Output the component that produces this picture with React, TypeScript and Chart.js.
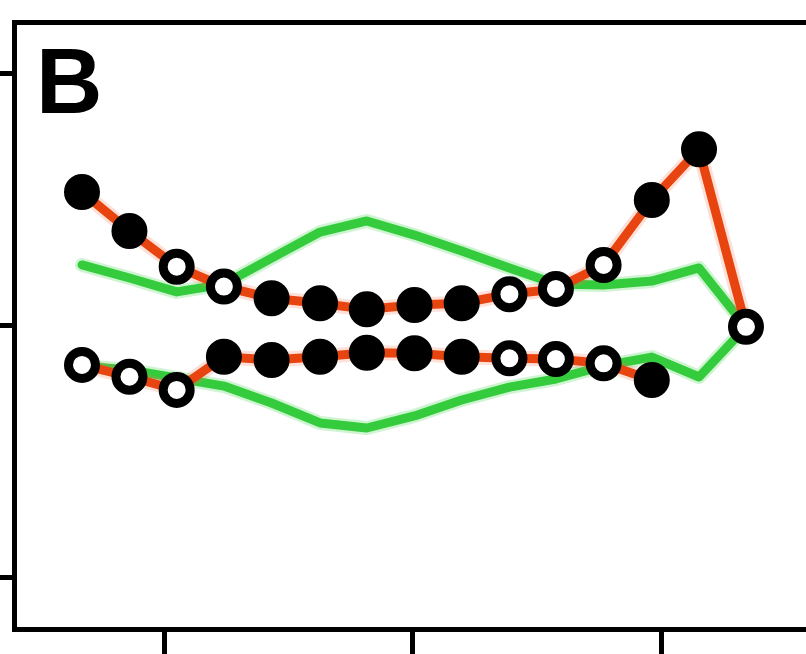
import React, { useEffect, useRef } from "react";
import { Chart, registerables } from "chart.js";

Chart.register(...registerables);

// x positions of the samples (axis ticks at 10, 20, 30)
const xPositions = [6.68, 8.59, 10.49, 12.39, 14.31, 16.26, 18.14, 20.06, 21.96, 23.88, 25.75, 27.67, 29.61, 31.51, 33.4];

// upper orange series (15 points)
const upperRed = [0.529, 0.374, 0.233, 0.154, 0.108, 0.088, 0.064, 0.081, 0.088, 0.124, 0.145, 0.24, 0.497, 0.698, -0.005];
const upperFilled = [true, true, false, false, true, true, true, true, true, false, false, false, true, true, false];

// lower orange series (13 points)
const lowerRed = [-0.156, -0.203, -0.255, -0.124, -0.137, -0.124, -0.108, -0.11, -0.124, -0.13, -0.133, -0.15, -0.216];
const lowerFilled = [false, false, false, true, true, true, true, true, true, false, false, false, true];

// green envelope lines
const upperGreen = [0.24, 0.188, 0.133, 0.164, 0.267, 0.37, 0.414, 0.358, 0.295, 0.228, 0.164, 0.16, 0.176, 0.228, -0.006];
const lowerGreen = [-0.16, -0.176, -0.208, -0.24, -0.307, -0.386, -0.406, -0.358, -0.295, -0.244, -0.212, -0.16, -0.125, -0.204, -0.006];

const xTicks = [10, 20, 30];
const yTicks = [-1, 0, 1];
const panelLabel = "B";

const ORANGE = "#e8440f";
const ORANGE_HALO = "rgba(245, 120, 80, 0.22)";
const GREEN = "#34cc3c";
const GREEN_HALO = "rgba(60, 210, 70, 0.25)";

const toPoints = (ys: number[]) => ys.map((y, i) => ({ x: xPositions[i], y }));

const labelPlugin = {
  id: "panelLabel",
  afterDraw(chart: any) {
    const ctx = chart.ctx;
    ctx.save();
    ctx.fillStyle = "#000";
    ctx.font = "bold 92px 'Liberation Sans', Arial, sans-serif";
    ctx.textBaseline = "alphabetic";
    ctx.textAlign = "left";
    ctx.fillText(panelLabel, 36, 113);
    ctx.restore();
  },
};

export default function App() {
  const ref = useRef<HTMLCanvasElement | null>(null);

  useEffect(() => {
    if (!ref.current) return;
    const xMin = 3.944;
    const xMax = 35.815;
    const markerBg = (flags: boolean[]) => flags.map((f) => (f ? "#000" : "#fff"));

    const chart = new Chart(ref.current, {
      type: "line",
      data: {
        datasets: [
          {
            label: "upper",
            data: toPoints(upperRed),
            borderColor: ORANGE,
            borderWidth: 9,
            pointRadius: 13.5,
            pointBorderWidth: 9,
            pointBorderColor: "#000",
            pointBackgroundColor: markerBg(upperFilled),
            order: 0,
          },
          {
            label: "lower",
            data: toPoints(lowerRed),
            borderColor: ORANGE,
            borderWidth: 9,
            pointRadius: 13.5,
            pointBorderWidth: 9,
            pointBorderColor: "#000",
            pointBackgroundColor: markerBg(lowerFilled),
            order: 0,
          },
          {
            label: "upperHalo",
            data: toPoints(upperRed),
            borderColor: ORANGE_HALO,
            borderWidth: 15,
            pointRadius: 0,
            order: 1,
          },
          {
            label: "lowerHalo",
            data: toPoints(lowerRed),
            borderColor: ORANGE_HALO,
            borderWidth: 15,
            pointRadius: 0,
            order: 1,
          },
          {
            label: "greenUpper",
            data: toPoints(upperGreen),
            borderColor: GREEN,
            borderWidth: 9,
            borderCapStyle: "round",
            borderJoinStyle: "round",
            pointRadius: 0,
            order: 2,
          },
          {
            label: "greenLower",
            data: toPoints(lowerGreen),
            borderColor: GREEN,
            borderWidth: 9,
            borderCapStyle: "round",
            borderJoinStyle: "round",
            pointRadius: 0,
            order: 2,
          },
          {
            label: "greenUpperHalo",
            data: toPoints(upperGreen),
            borderColor: GREEN_HALO,
            borderWidth: 14,
            borderCapStyle: "round",
            borderJoinStyle: "round",
            pointRadius: 0,
            order: 3,
          },
          {
            label: "greenLowerHalo",
            data: toPoints(lowerGreen),
            borderColor: GREEN_HALO,
            borderWidth: 14,
            borderCapStyle: "round",
            borderJoinStyle: "round",
            pointRadius: 0,
            order: 3,
          },
        ],
      },
      options: {
        animation: false,
        responsive: false,
        events: [],
        layout: { autoPadding: false, padding: { top: 22, left: 0, right: 0, bottom: 0 } },
        plugins: {
          legend: { display: false },
          tooltip: { enabled: false },
          title: { display: false },
        },
        elements: { line: { tension: 0 } },
        scales: {
          x: {
            type: "linear",
            position: "bottom",
            min: xMin,
            max: xMax,
            afterBuildTicks: (s: any) => {
              s.ticks = xTicks.map((v) => ({ value: v }));
            },
            ticks: { display: false },
            grid: {
              display: true,
              drawOnChartArea: false,
              drawTicks: true,
              tickLength: 25,
              tickWidth: 5,
              lineWidth: 5,
              tickColor: "#000",
              color: "#000",
            },
            border: { display: true, width: 5, color: "#000" },
          },
          x2: {
            type: "linear",
            position: "top",
            min: xMin,
            max: xMax,
            ticks: { display: false },
            grid: { display: false, drawTicks: false },
            border: { display: true, width: 5, color: "#000" },
          },
          y: {
            type: "linear",
            position: "left",
            min: -1.202,
            max: 1.202,
            afterBuildTicks: (s: any) => {
              s.ticks = yTicks.map((v) => ({ value: v }));
            },
            ticks: { display: false },
            grid: {
              display: true,
              drawOnChartArea: false,
              drawTicks: true,
              tickLength: 14,
              tickWidth: 5,
              lineWidth: 5,
              tickColor: "#000",
              color: "#000",
            },
            border: { display: true, width: 5, color: "#000" },
          },
        },
      } as any,
      plugins: [labelPlugin],
    });
    return () => chart.destroy();
  }, []);

  return (
    <div style={{ position: "absolute", left: 0, top: 0, width: 806, height: 654, background: "#fff" }}>
      <canvas ref={ref} width={806} height={654} style={{ display: "block" }} />
    </div>
  );
}
